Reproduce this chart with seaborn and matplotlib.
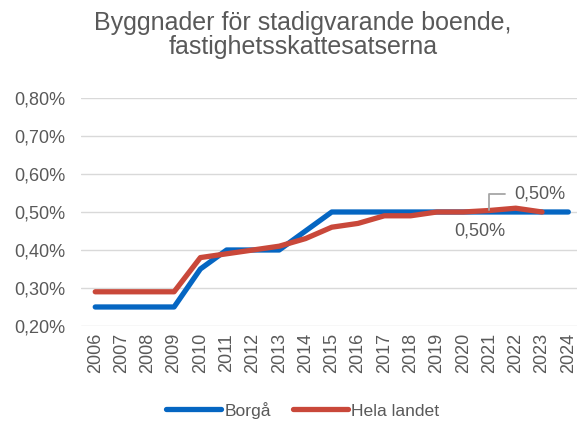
import numpy as np
import pandas as pd
import matplotlib
matplotlib.use("Agg")
import matplotlib.pyplot as plt
import seaborn as sns
from matplotlib.ticker import FuncFormatter

years = [str(y) for y in range(2006, 2025)]
borga = [0.25, 0.25, 0.25, 0.25, 0.35, 0.40, 0.40, 0.40, 0.45, 0.50,
         0.50, 0.50, 0.50, 0.50, 0.50, 0.50, 0.50, 0.50, 0.50]
hela_landet = [0.29, 0.29, 0.29, 0.29, 0.38, 0.39, 0.40, 0.41, 0.43, 0.46,
               0.47, 0.49, 0.49, 0.50, 0.50, 0.504, 0.51, 0.50]
series_names = ["Borgå", "Hela landet"]
colors = ["#0566C2", "#C9483A"]

df = pd.concat([
    pd.DataFrame({"year": years, "rate": borga, "serie": series_names[0]}),
    pd.DataFrame({"year": years[:len(hela_landet)], "rate": hela_landet, "serie": series_names[1]}),
])
df["x"] = df["year"].map({y: i for i, y in enumerate(years)})

sns.set_style("white")
plt.rcParams["font.family"] = ["Liberation Sans", "DejaVu Sans"]
grey = "#595959"


def pct(v):
    return f"{v:.2f}%".replace(".", ",")


fig = plt.figure(figsize=(5.77, 4.21), dpi=100)
ax = fig.add_axes([0.14, 0.2257, 0.87, 0.5415])

sns.lineplot(data=df, x="x", y="rate", hue="serie", palette=colors,
             linewidth=3.8, ax=ax, legend=False,
             solid_capstyle="round", solid_joinstyle="round")

ax.set_xlim(-0.55, len(years) - 0.45)
ax.set_ylim(0.20, 0.80)
ax.set_yticks(np.arange(0.20, 0.81, 0.10))
ax.yaxis.set_major_formatter(FuncFormatter(lambda v, p: pct(v)))
ax.set_xticks(range(len(years)))
ax.set_xticklabels(years, rotation=90)
ax.tick_params(axis="both", colors=grey, labelsize=13, length=0)
ax.tick_params(axis="y", pad=11)
ax.tick_params(axis="x", pad=5)
ax.set_xlabel("")
ax.set_ylabel("")
ax.grid(axis="y", color="#D9D9D9", linewidth=1)
ax.set_axisbelow(True)
for s in ax.spines.values():
    s.set_visible(False)

# data labels for 2021
i = years.index("2021")
ax.annotate(pct(borga[i]), (i, borga[i]),
            xytext=(-7, -14), textcoords="offset points", ha="center", va="center",
            color=grey, fontsize=13)
ax.annotate(pct(hela_landet[i]), (i, hela_landet[i]),
            xytext=(36, 12), textcoords="offset points", ha="center", va="center",
            color=grey, fontsize=13,
            arrowprops=dict(arrowstyle="-", color="#A6A6A6", lw=1.3,
                            connectionstyle="angle,angleA=0,angleB=90,rad=0",
                            shrinkA=4, shrinkB=0))

fig.text(0.525, 0.918, "Byggnader för stadigvarande boende,\nfastighetsskattesatserna",
         ha="center", va="center", color=grey, fontsize=18, linespacing=1.0)

handles = [plt.Line2D([], [], color=c, linewidth=3.8, solid_capstyle="round") for c in colors]
fig.legend(handles, series_names, loc="center", bbox_to_anchor=(0.525, 0.026),
           ncol=2, frameon=False, handlelength=3.1, handletextpad=0.2,
           columnspacing=1.3, fontsize=12.6, labelcolor=grey)

fig.savefig("out.png", dpi=100)
